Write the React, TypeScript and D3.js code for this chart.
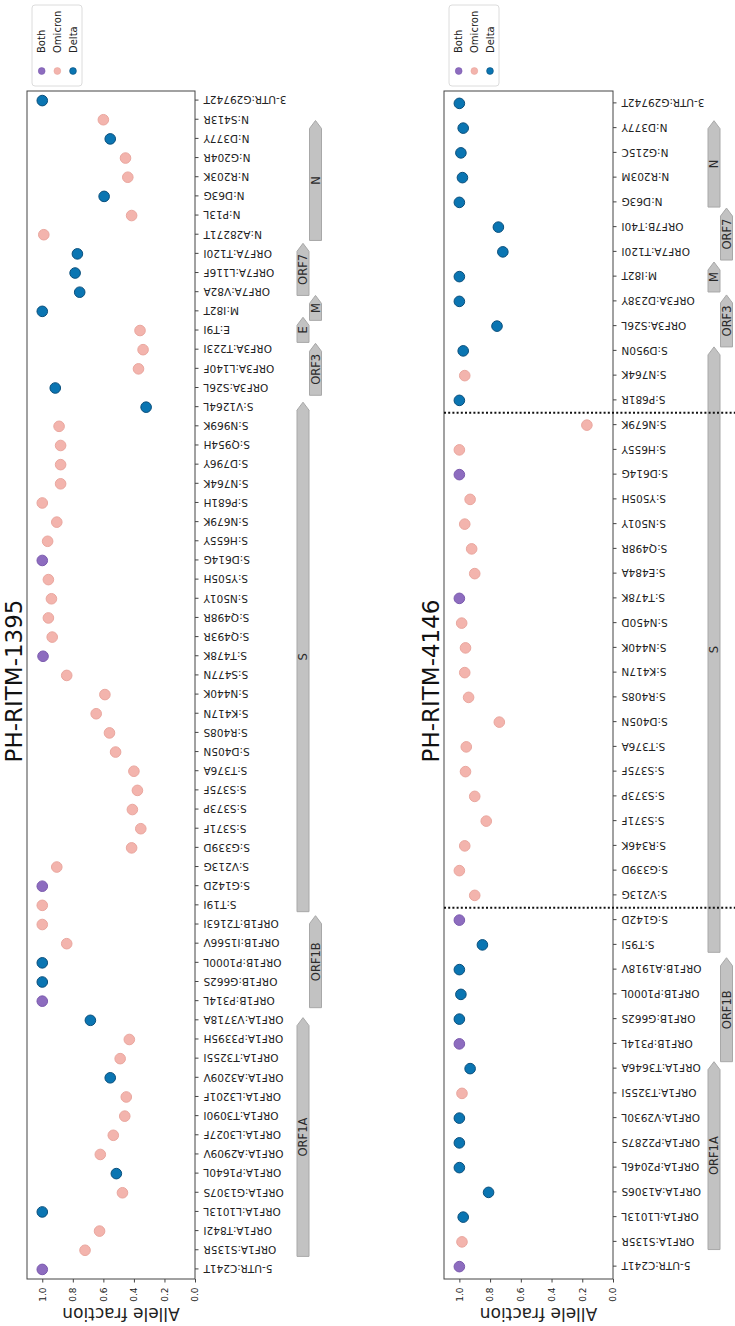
import React, { useEffect, useRef } from 'react';
import * as d3 from 'd3';

// the figure is laid out the "normal" way (mutations along x, allele fraction up y)
// and then the whole thing is turned a quarter turn to the left, like the source image
const OW = 1326;
const OH = 735;

// ---------- PH-RITM-1395 ----------
const cats1395 = [
  '5-UTR:C241T', 'ORF1A:S135R', 'ORF1A:T842I', 'ORF1A:L1013L', 'ORF1A:G1307S', 'ORF1A:P1640L',
  'ORF1A:A2909V', 'ORF1A:L3027F', 'ORF1A:T3090I', 'ORF1A:L3201F', 'ORF1A:A3209V', 'ORF1A:T3255I',
  'ORF1A:P3395H', 'ORF1A:V3718A', 'ORF1B:P314L', 'ORF1B:G662S', 'ORF1B:P1000L', 'ORF1B:I1566V',
  'ORF1B:T2163I', 'S:T19I', 'S:G142D', 'S:V213G', 'S:G339D', 'S:S371F', 'S:S373P', 'S:S375F',
  'S:T376A', 'S:D405N', 'S:R408S', 'S:K417N', 'S:N440K', 'S:S477N', 'S:T478K', 'S:Q493R',
  'S:Q498R', 'S:N501Y', 'S:Y505H', 'S:D614G', 'S:H655Y', 'S:N679K', 'S:P681H', 'S:N764K',
  'S:D796Y', 'S:Q954H', 'S:N969K', 'S:V1264L', 'ORF3A:S26L', 'ORF3A:L140F', 'ORF3A:T223I',
  'E:T9I', 'M:I82T', 'ORF7A:V82A', 'ORF7A:L116F', 'ORF7A:T120I', 'N:A28271T', 'N:P13L',
  'N:D63G', 'N:R203K', 'N:G204R', 'N:D377Y', 'N:S413R', '3-UTR:G29742T',
];
const af1395 = [
  1.0, 0.72, 0.625, 1.0, 0.475, 0.515, 0.62, 0.535, 0.46, 0.45, 0.555, 0.49, 0.43, 0.685,
  1.0, 1.0, 1.0, 0.84, 1.0, 1.0, 1.0, 0.905, 0.415, 0.355, 0.41, 0.377, 0.4, 0.52, 0.56,
  0.647, 0.59, 0.84, 0.995, 0.935, 0.96, 0.94, 0.96, 1.0, 0.965, 0.905, 1.0, 0.88, 0.88,
  0.88, 0.89, 0.32, 0.915, 0.37, 0.34, 0.36, 1.0, 0.755, 0.785, 0.77, 0.99, 0.415, 0.595,
  0.44, 0.455, 0.555, 0.6, 1.0,
];
const grp1395 = [
  'Both', 'Omicron', 'Omicron', 'Delta', 'Omicron', 'Delta', 'Omicron', 'Omicron', 'Omicron',
  'Omicron', 'Delta', 'Omicron', 'Omicron', 'Delta', 'Both', 'Delta', 'Delta', 'Omicron',
  'Omicron', 'Omicron', 'Both', 'Omicron', 'Omicron', 'Omicron', 'Omicron', 'Omicron',
  'Omicron', 'Omicron', 'Omicron', 'Omicron', 'Omicron', 'Omicron', 'Both', 'Omicron',
  'Omicron', 'Omicron', 'Omicron', 'Both', 'Omicron', 'Omicron', 'Omicron', 'Omicron',
  'Omicron', 'Omicron', 'Omicron', 'Delta', 'Delta', 'Omicron', 'Omicron', 'Omicron',
  'Delta', 'Delta', 'Delta', 'Delta', 'Omicron', 'Omicron', 'Delta', 'Omicron', 'Omicron',
  'Delta', 'Omicron', 'Delta',
];
// gene arrows, extents in mutation-index units
const genes1395 = ['ORF1A', 'ORF1B', 'S', 'ORF3', 'E', 'M', 'ORF7', 'N'];
const geneFrom1395 = [0.68, 13.66, 18.67, 45.62, 48.38, 49.53, 50.83, 53.7];
const geneTo1395 = [13.14, 18.46, 45.26, 48.33, 49.69, 50.83, 53.55, 59.96];
const dividers1395: number[] = [];

// ---------- PH-RITM-4146 ----------
const cats4146 = [
  '5-UTR:C241T', 'ORF1A:S135R', 'ORF1A:L1013L', 'ORF1A:A1306S', 'ORF1A:P2046L', 'ORF1A:P2287S',
  'ORF1A:V2930L', 'ORF1A:T3255I', 'ORF1A:T3646A', 'ORF1B:P314L', 'ORF1B:G662S', 'ORF1B:P1000L',
  'ORF1B:A1918V', 'S:T95I', 'S:G142D', 'S:V213G', 'S:G339D', 'S:R346K', 'S:S371F', 'S:S373P',
  'S:S375F', 'S:T376A', 'S:D405N', 'S:R408S', 'S:K417N', 'S:N440K', 'S:N450D', 'S:T478K',
  'S:E484A', 'S:Q498R', 'S:N501Y', 'S:Y505H', 'S:D614G', 'S:H655Y', 'S:N679K', 'S:P681R',
  'S:N764K', 'S:D950N', 'ORF3A:S26L', 'ORF3A:D238Y', 'M:I82T', 'ORF7A:T120I', 'ORF7B:T40I',
  'N:D63G', 'N:R203M', 'N:G215C', 'N:D377Y', '3-UTR:G29742T',
];
const af4146 = [
  1.0, 0.983, 0.975, 0.81, 1.0, 1.0, 1.0, 0.983, 0.93, 1.0, 1.0, 0.99, 1.0, 0.85, 1.0, 0.9,
  1.0, 0.965, 0.825, 0.9, 0.96, 0.955, 0.74, 0.94, 0.965, 0.96, 0.985, 1.0, 0.9, 0.92, 0.965,
  0.93, 1.0, 1.0, 0.17, 1.0, 0.965, 0.975, 0.755, 1.0, 1.0, 0.717, 0.746, 1.0, 0.98, 0.99,
  0.975, 1.0,
];
const grp4146 = [
  'Both', 'Omicron', 'Delta', 'Delta', 'Delta', 'Delta', 'Delta', 'Omicron', 'Delta', 'Both',
  'Delta', 'Delta', 'Delta', 'Delta', 'Both', 'Omicron', 'Omicron', 'Omicron', 'Omicron',
  'Omicron', 'Omicron', 'Omicron', 'Omicron', 'Omicron', 'Omicron', 'Omicron', 'Omicron',
  'Both', 'Omicron', 'Omicron', 'Omicron', 'Omicron', 'Both', 'Omicron', 'Omicron', 'Delta',
  'Omicron', 'Delta', 'Delta', 'Delta', 'Delta', 'Delta', 'Delta', 'Delta', 'Delta', 'Delta',
  'Delta', 'Delta',
];
const genes4146 = ['ORF1A', 'ORF1B', 'S', 'ORF3', 'M', 'ORF7', 'N'];
const geneFrom4146 = [0.69, 8.28, 12.7, 37.16, 39.38, 40.67, 42.81];
const geneTo4146 = [8.28, 12.48, 37.16, 39.26, 40.59, 42.77, 46.3];
const dividers4146 = [14.5, 34.5];

const legendKeys = ['Both', 'Omicron', 'Delta'];
const yTicks = [0, 0.2, 0.4, 0.6, 0.8, 1.0];

const fill: Record<string, string> = { Both: '#8d6cbf', Omicron: '#f3b4ad', Delta: '#0a75b2' };
const edge: Record<string, string> = { Both: '#7b5aae', Omicron: '#eaa79f', Delta: '#0a4f7c' };

const FONT = 'DejaVu Sans, sans-serif';
const AX0 = 47;
const AX1 = 1235;

type Panel = {
  title: string;
  cats: string[];
  af: number[];
  grp: string[];
  genes: string[];
  from: number[];
  to: number[];
  dividers: number[];
  top: number;
  bottom: number;
  geneTop: number;
};

function drawPanel(root: any, p: Panel) {
  const g = root.append('g');
  const n = p.cats.length;

  const x = d3.scalePoint<string>().domain(p.cats).range([AX0, AX1]).padding(0.5);
  const xi = d3.scaleLinear().domain([-0.5, n - 0.5]).range([AX0, AX1]);
  const y = d3.scaleLinear().domain([0, 1.1]).range([p.bottom, p.top]);

  // title
  g.append('text')
    .attr('x', (AX0 + AX1) / 2 + 4)
    .attr('y', p.top - 5)
    .attr('text-anchor', 'middle')
    .attr('font-family', FONT)
    .attr('font-size', 23)
    .attr('fill', '#111')
    .text(p.title);

  // allele fraction axis
  const ya = g.append('g')
    .attr('transform', `translate(${AX0},0)`)
    .call(d3.axisLeft(y).tickValues(yTicks).tickFormat(d3.format('.1f')).tickSize(3.5).tickPadding(5).tickSizeOuter(0));
  ya.select('.domain').remove();
  ya.selectAll('line').attr('stroke', '#444');
  ya.selectAll('text').attr('font-family', FONT).attr('font-size', 9).attr('fill', '#222');

  g.append('text')
    .attr('transform', `translate(18,${(p.top + p.bottom) / 2 + 10}) rotate(-90)`)
    .attr('text-anchor', 'middle')
    .attr('font-family', FONT)
    .attr('font-size', 17)
    .attr('fill', '#222')
    .text('Allele fraction');

  // mutation axis
  const xa = g.append('g')
    .attr('transform', `translate(0,${p.bottom})`)
    .call(d3.axisBottom(x).tickSize(3.5).tickSizeOuter(0));
  xa.select('.domain').remove();
  xa.selectAll('line').attr('stroke', '#444');
  xa.selectAll('text')
    .attr('x', 0)
    .attr('y', 0)
    .attr('dy', '0.35em')
    .attr('transform', 'translate(0,8.5) rotate(-90)')
    .attr('text-anchor', 'end')
    .attr('font-family', FONT)
    .attr('font-size', 10.5)
    .attr('fill', '#222');

  // frame
  g.append('rect')
    .attr('x', AX0)
    .attr('y', p.top)
    .attr('width', AX1 - AX0)
    .attr('height', p.bottom - p.top)
    .attr('fill', 'none')
    .attr('stroke', '#444')
    .attr('stroke-width', 1);

  // points
  g.selectAll('.dot')
    .data(p.cats)
    .enter().append('circle')
    .attr('class', 'dot')
    .attr('cx', (d: string) => x(d) as number)
    .attr('cy', (_d: string, i: number) => y(p.af[i]))
    .attr('r', 5.3)
    .attr('fill', (_d: string, i: number) => fill[p.grp[i]])
    .attr('stroke', (_d: string, i: number) => edge[p.grp[i]])
    .attr('stroke-width', 1);

  // gene arrows, alternating between two rows
  const bh = 12;
  const tip = 8;
  p.genes.forEach((name, i) => {
    const x0 = xi(p.from[i]);
    const x1 = xi(p.to[i]);
    const t = p.geneTop + (i % 2) * 12.5;
    const pts = [
      [x0, t], [x1 - tip, t], [x1, t + bh / 2], [x1 - tip, t + bh], [x0, t + bh],
    ];
    g.append('polygon')
      .attr('points', pts.map(q => q.join(',')).join(' '))
      .attr('fill', '#c2c2c2')
      .attr('stroke', '#a8a8a8')
      .attr('stroke-width', 1);
    g.append('text')
      .attr('x', (x0 + x1) / 2)
      .attr('y', t + bh / 2)
      .attr('dy', '0.36em')
      .attr('text-anchor', 'middle')
      .attr('font-family', FONT)
      .attr('font-size', 11.5)
      .attr('fill', '#2a2a2a')
      .text(name);
  });

  // dotted separators
  p.dividers.forEach(d => {
    g.append('line')
      .attr('x1', xi(d)).attr('x2', xi(d))
      .attr('y1', p.top).attr('y2', OH)
      .attr('stroke', '#111')
      .attr('stroke-width', 2.2)
      .attr('stroke-dasharray', '2,2.2');
  });

  // legend, outside the axes on the right
  const lg = g.append('g').attr('transform', `translate(${AX1 + 5},${p.top + 5})`);
  lg.append('rect')
    .attr('width', 81)
    .attr('height', 50)
    .attr('rx', 3)
    .attr('fill', '#fff')
    .attr('stroke', '#dcdcdc');
  legendKeys.forEach((k, i) => {
    const cy = 9.7 + i * 15.65;
    lg.append('circle')
      .attr('cx', 15)
      .attr('cy', cy)
      .attr('r', 3.4)
      .attr('fill', fill[k])
      .attr('stroke', edge[k])
      .attr('stroke-width', 0.6);
    lg.append('text')
      .attr('x', 33)
      .attr('y', cy)
      .attr('dy', '0.35em')
      .attr('font-family', FONT)
      .attr('font-size', 10)
      .attr('fill', '#222')
      .text(k);
  });
}

const App = () => {
  const svgRef = useRef<SVGSVGElement | null>(null);

  useEffect(() => {
    const svg = d3.select(svgRef.current);
    svg.selectAll('*').remove();

    svg.append('rect').attr('width', OH).attr('height', OW).attr('fill', '#fff');

    const root = svg.append('g').attr('transform', `translate(0,${OW}) rotate(-90)`);

    drawPanel(root, {
      title: 'PH-RITM-1395',
      cats: cats1395, af: af1395, grp: grp1395,
      genes: genes1395, from: geneFrom1395, to: geneTo1395, dividers: dividers1395,
      top: 27, bottom: 195, geneTop: 297,
    });
    drawPanel(root, {
      title: 'PH-RITM-4146',
      cats: cats4146, af: af4146, grp: grp4146,
      genes: genes4146, from: geneFrom4146, to: geneTo4146, dividers: dividers4146,
      top: 444, bottom: 613, geneTop: 708,
    });
  }, []);

  return (
    <svg
      ref={svgRef}
      width={OH}
      height={OW}
      style={{ position: 'absolute', left: 0, top: 0, display: 'block' }}
    />
  );
};

export default App;
